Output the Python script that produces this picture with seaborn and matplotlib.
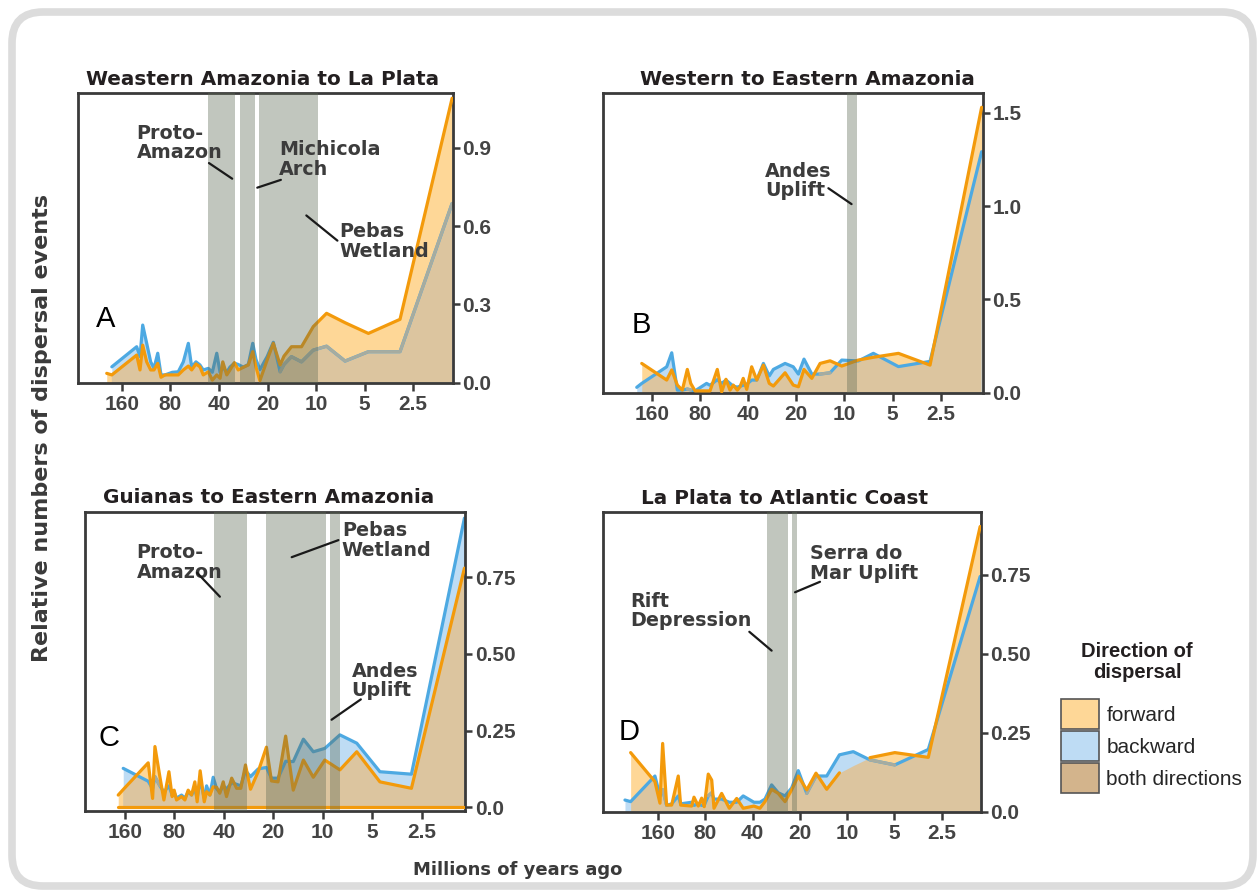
import numpy as np
import matplotlib
matplotlib.use('Agg')
import matplotlib.pyplot as plt
import seaborn as sns
from matplotlib.patches import Patch, FancyBboxPatch
from matplotlib.path import Path
from matplotlib.transforms import IdentityTransform
from matplotlib.ticker import NullLocator

nan = np.nan

#----------------data (age in Ma, relative number of events)-------------------------------------
# A: Weastern Amazonia to La Plata
a_age = [199, 185, 129.7, 123.7, 119, 112.4, 106.2, 101.3, 96, 91.6,
         86.5, 78, 71.6, 66.6, 62, 59.1, 55.6, 52.5, 50.1, 46.6,
         44, 41.3, 39.4, 37.9, 35.8, 34.2, 32.1, 30.4, 28.3, 26.3,
         24.7, 23.6, 22.3, 20.1, 18.4, 16.7, 15.8, 14.2, 12.3, 10.4,
         8.6, 6.6, 4.73, 3.01, 1.43]
a_fwd = [0.036, 0.030, 0.106, 0.049, 0.144, 0.080, 0.049, 0.049, 0.074, 0.021,
         0.030, 0.030, 0.030, 0.049, 0.064, 0.049, 0.072, 0.061, 0.030, 0.042,
         0.010, 0.030, 0.017, 0.080, 0.030, 0.049, 0.077, 0.049, 0.059, 0.068,
         0.119, 0.061, 0.008, 0.087, 0.151, 0.068, 0.102, 0.138, 0.138, 0.215,
         0.266, 0.230, 0.189, 0.243, 1.090]
a_bwd = [nan, 0.061, 0.138, 0.100, 0.221, 0.151, 0.080, 0.055, 0.113, 0.030,
         0.030, 0.040, 0.042, 0.080, 0.151, 0.060, 0.080, 0.068, 0.049, 0.055,
         0.040, 0.113, 0.040, 0.060, 0.040, 0.060, 0.075, 0.070, 0.060, 0.070,
         0.151, 0.090, 0.050, 0.100, 0.155, 0.042, 0.070, 0.100, 0.080, 0.125,
         0.140, 0.083, 0.119, 0.119, 0.687]
a_bands = [(47, 32), (29.6, 23.9), (22.5, 9.7)]

# B: Western to Eastern Amazonia
b_age = [198.5, 184.7, 129, 120, 110.7, 103, 95.9, 91.3, 85.8, 72.7,
         69.2, 62.3, 58.5, 55, 51.9, 49.5, 46.7, 44.9, 42.9, 40.8,
         38, 35.3, 32.1, 29.5, 27.8, 23.5, 20.9, 19.4, 17.9, 16,
         14.2, 12.3, 10.4, 8.2, 6.6, 4.6, 2.92, 1.39]
b_fwd = [nan, 0.157, 0.068, 0.122, 0.041, 0.014, 0.125, 0.050, 0.010, 0.010,
         0.010, 0.125, 0.005, 0.072, 0.014, 0.041, 0.014, 0.032, 0.077, 0.018,
         0.139, 0.068, 0.148, 0.050, 0.036, 0.107, 0.041, 0.032, 0.125, 0.077,
         0.157, 0.171, 0.143, 0.175, 0.190, 0.211, 0.148, 1.529]
b_bwd = [0.029, 0.050, 0.139, 0.214, 0.014, 0.014, 0.020, 0.015, 0.010, 0.050,
         0.040, 0.070, 0.050, 0.068, 0.050, 0.035, 0.030, 0.035, 0.040, 0.045,
         0.068, 0.068, 0.157, 0.090, 0.125, 0.157, 0.139, 0.100, 0.180, 0.100,
         0.100, 0.107, 0.175, 0.170, 0.211, 0.140, 0.168, 1.291]
b_bands = [(9.7, 8.3)]

# C: Guianas to Eastern Amazonia
c_age = [175.7, 163.8, 115.4, 108.5, 105, 98, 92.6, 86.3, 82.5, 80.2,
         77.6, 72.3, 69, 65.9, 62.8, 60, 58.1, 55.7, 52.6, 50.9,
         48.6, 46.4, 44.2, 42.3, 40.3, 38.5, 35.8, 33.4, 31.5, 29.5,
         27.5, 24.7, 22, 20.5, 18.7, 16.8, 15.1, 13.1, 11.4, 9.7,
         7.85, 6.2, 4.48, 2.88, 1.37]
c_fwd = [0.040, 0.058, 0.145, 0.029, 0.198, 0.100, 0.024, 0.116, 0.035, 0.056,
         0.024, 0.035, 0.024, 0.056, 0.040, 0.083, 0.018, 0.119, 0.018, 0.051,
         0.040, 0.067, 0.065, 0.046, 0.083, 0.035, 0.095, 0.062, 0.062, 0.138,
         0.059, 0.116, 0.196, 0.086, 0.083, 0.232, 0.056, 0.154, 0.098, 0.154,
         0.122, 0.181, 0.083, 0.062, 0.779]
c_bwd = [nan, 0.127, 0.085, 0.060, 0.100, 0.070, 0.050, 0.070, 0.040, 0.050,
         0.030, 0.040, 0.030, 0.050, 0.040, 0.060, 0.030, 0.090, 0.030, 0.070,
         0.040, 0.098, 0.060, 0.050, 0.070, 0.060, 0.080, 0.075, 0.070, 0.120,
         0.100, 0.125, 0.130, 0.095, 0.095, 0.150, 0.149, 0.222, 0.181, 0.192,
         0.236, 0.209, 0.116, 0.108, 0.942]
c_bands = [(46, 29), (22.2, 9.6), (9.0, 7.8)]

# D: La Plata to Atlantic Coast
d_age = [260.8, 240, 168, 156, 150, 141.5, 131.4, 119.3, 115.2, 98,
         94.7, 88.9, 84.6, 81.5, 76.8, 73, 70.6, 63.1, 56.4, 50.6,
         46, 39.3, 36, 33.4, 30.3, 27.5, 24.9, 22.6, 20.5, 18.1,
         15.8, 13.5, 11.2, 9.14, 7.16, 4.97, 3.04, 1.42]
d_fwd = [nan, 0.187, 0.095, 0.027, 0.216, 0.021, 0.021, 0.113, 0.021, 0.018,
         0.046, 0.018, 0.043, 0.016, 0.119, 0.100, 0.011, 0.058, 0.011, 0.042,
         0.011, 0.018, 0.011, 0.032, 0.071, 0.058, 0.032, 0.069, 0.113, 0.069,
         0.122, 0.071, 0.123, 0.146, 0.171, 0.187, 0.172, 0.902]
d_bwd = [0.037, 0.032, 0.113, 0.050, 0.070, 0.020, 0.025, 0.050, 0.025, 0.030,
         0.020, 0.025, 0.020, 0.020, 0.050, 0.060, 0.040, 0.040, 0.030, 0.030,
         0.050, 0.030, 0.030, 0.040, 0.085, 0.060, 0.050, 0.075, 0.130, 0.058,
         0.113, 0.113, 0.180, 0.190, 0.164, 0.148, 0.197, 0.744]
d_line_gap = [9.14]   # forward line not drawn through this point
d_bands = [(32.6, 23.7), (22.5, 20.8)]

x_ticks = [160, 80, 40, 20, 10, 5, 2.5]
x_ticklabels = ['160', '80', '40', '20', '10', '5', '2.5']

legend_labels = ['forward', 'backward', 'both directions']

#----------------styles-----------------
ORANGE = '#f39a0b'
BLUE = '#4da9e2'
GREY = '#a6aca0'
ORANGE_FILL = '#fed797'
BLUE_FILL = '#bedcf4'
TAN_FILL = '#dcc59f'
BAND = '#5e6b55'
DARK = '#3a3a3a'

panels = [
    dict(letter='A', title='Weastern Amazonia to La Plata', tx=0.493,
         pos=[0.0622, 0.5714, 0.2974, 0.3241], xlim=(298.7, 1.417), ylim=(0, 1.109),
         yt=[0, 0.3, 0.6, 0.9], ytl=['0.0', '0.3', '0.6', '0.9'],
         age=a_age, fwd=a_fwd, bwd=a_bwd, bands=a_bands, gap=[], floor=False,
         lpos=(0.048, 0.221),
         notes=[('Proto-\nAmazon', (0.156, 0.895), (0.349, 0.759), (0.411, 0.705)),
                ('Michicola\nArch', (0.536, 0.838), (0.478, 0.674), (0.541, 0.701)),
                ('Pebas\nWetland', (0.697, 0.555), (0.609, 0.578), (0.692, 0.491))]),
    dict(letter='B', title='Western to Eastern Amazonia', tx=0.54,
         pos=[0.4787, 0.5602, 0.3018, 0.3353], xlim=(324, 1.37), ylim=(0, 1.604),
         yt=[0, 0.5, 1.0, 1.5], ytl=['0.0', '0.5', '1.0', '1.5'],
         age=b_age, fwd=b_fwd, bwd=b_bwd, bands=b_bands, gap=[], floor=False,
         lpos=(0.076, 0.226),
         notes=[('Andes\nUplift', (0.427, 0.772), (0.594, 0.683), (0.655, 0.630))]),
    dict(letter='C', title='Guianas to Eastern Amazonia', tx=0.482,
         pos=[0.0675, 0.0918, 0.3018, 0.3352], xlim=(280, 1.36), ylim=(-0.012, 0.963),
         yt=[0, 0.25, 0.5, 0.75], ytl=['0.0', '0.25', '0.50', '0.75'],
         age=c_age, fwd=c_fwd, bwd=c_bwd, bands=c_bands, gap=[], floor=True,
         lpos=(0.035, 0.244),
         notes=[('Proto-\nAmazon', (0.136, 0.895), (0.295, 0.796), (0.355, 0.716)),
                ('Pebas\nWetland', (0.676, 0.969), (0.544, 0.848), (0.667, 0.905)),
                ('Andes\nUplift', (0.702, 0.499), (0.649, 0.305), (0.726, 0.373))]),
    dict(letter='D', title='La Plata to Atlantic Coast', tx=0.48,
         pos=[0.4787, 0.0910, 0.3002, 0.3353], xlim=(361.7, 1.41), ylim=(0, 0.947),
         yt=[0, 0.25, 0.5, 0.75], ytl=['0.0', '0.25', '0.50', '0.75'],
         age=d_age, fwd=d_fwd, bwd=d_bwd, bands=d_bands, gap=d_line_gap, floor=False,
         lpos=(0.041, 0.265),
         notes=[('Rift\nDepression', (0.074, 0.735), (0.388, 0.601), (0.447, 0.538)),
                ('Serra do\nMar Uplift', (0.548, 0.893), (0.509, 0.733), (0.575, 0.768))]),
]

sns.set_theme(style='ticks')
plt.rcParams['font.family'] = ['DejaVu Sans']


def draw_line(ax, x, y, color, z):
    # seaborn joins over NaN, so draw each unbroken run on its own
    idx = np.flatnonzero(~np.isnan(y))
    runs = np.split(idx, np.flatnonzero(np.diff(idx) > 1) + 1)
    for r in runs:
        if len(r) > 1:
            sns.lineplot(x=x[r], y=y[r], color=color, lw=2.3, ax=ax, zorder=z,
                         sort=False, estimator=None)


fig = plt.figure(figsize=(12.59, 8.93), dpi=100)

for p in panels:
    ax = fig.add_axes(p['pos'])
    ax.set_xscale('log', base=2)
    age = np.array(p['age'])
    fwd = np.array(p['fwd'])
    bwd = np.array(p['bwd'])

    # fills: forward, backward and their overlap
    ax.fill_between(age, 0, fwd, color=ORANGE_FILL, lw=0, zorder=1)
    pb = ax.fill_between(age, 0, bwd, color=BLUE_FILL, lw=0, zorder=1.1)
    pt = ax.fill_between(age, 0, fwd, color=TAN_FILL, lw=0, zorder=1.2)
    pt.set_clip_path(Path.make_compound_path(*pb.get_paths()), pb.get_transform())

    # lines
    draw_line(ax, age, bwd, BLUE, 2)
    hidden = np.where(bwd < fwd, bwd, np.nan)
    draw_line(ax, age, hidden, GREY, 2.1)
    fwd_line = np.where(np.isin(age, p['gap']), np.nan, fwd)
    draw_line(ax, age, fwd_line, ORANGE, 3)
    if p['floor']:
        sns.lineplot(x=[age[0], age[-1]], y=[0, 0], color=ORANGE, lw=2.3, ax=ax, zorder=3)

    for a0, a1 in p['bands']:
        ax.axvspan(a0, a1, color=BAND, alpha=0.38, lw=0, zorder=4)

    for txt, (tx, ty), (x0, y0), (x1, y1) in p['notes']:
        ax.text(tx, ty, txt, transform=ax.transAxes, ha='left', va='top', fontsize=13.8,
                fontweight='bold', color='#3c3c3c', linespacing=1.05, zorder=6)
        ax.plot([x0, x1], [y0, y1], transform=ax.transAxes, color='#1a1a1a', lw=1.6, zorder=6)

    ax.text(p['lpos'][0], p['lpos'][1], p['letter'], transform=ax.transAxes, ha='left',
            va='center', fontsize=21, family='Liberation Sans', color='black', zorder=6)

    ax.set_xlim(*p['xlim'])
    ax.set_ylim(*p['ylim'])
    ax.xaxis.set_minor_locator(NullLocator())
    ax.set_xticks(x_ticks, labels=x_ticklabels, fontfamily='Liberation Sans',
                  fontweight='bold', fontsize=15, color='#444444')
    ax.yaxis.tick_right()
    ax.set_yticks(p['yt'], labels=p['ytl'], fontfamily='Liberation Sans',
                  fontweight='bold', fontsize=15, color='#444444')
    ax.tick_params(axis='x', bottom=True, length=5.5, width=1.8, color=DARK, pad=3)
    ax.tick_params(axis='y', right=True, left=False, labelright=True, labelleft=False,
                   length=5, width=1.8, color=DARK, pad=2)
    for s in ax.spines.values():
        s.set_visible(True)
        s.set_color(DARK)
        s.set_linewidth(2)
    ax.set_xlabel('')
    ax.set_ylabel('')
    ax.set_title(p['title'], x=p['tx'], fontsize=14.4, fontweight='bold',
                 color='#231f20', pad=6)

fig.text(42 / 1259, 1 - 428 / 893, 'Relative numbers of dispersal events', rotation=90,
         ha='center', va='center', fontsize=16, fontweight='bold', color=DARK)
fig.text(518 / 1259, 1 - 870 / 893, 'Millions of years ago', ha='center', va='center',
         fontsize=13, fontweight='bold', color=DARK)

fig.text(1137 / 1259, 1 - 642 / 893, 'Direction of\ndispersal', ha='center', va='top',
         fontsize=14.5, fontweight='bold', family='Liberation Sans', color='#231f20',
         linespacing=1.1)
handles = [Patch(facecolor=c, edgecolor='#555555', lw=1.2, label=l)
           for c, l in zip([ORANGE_FILL, BLUE_FILL, '#d3b48c'], legend_labels)]
fig.legend(handles=handles, loc='upper left', bbox_to_anchor=(1061 / 1259, 1 - 699 / 893),
           frameon=False, prop={'family': 'Liberation Sans', 'size': 15},
           handlelength=1.83, handleheight=1.83, handletextpad=0.35, labelspacing=0.1,
           borderpad=0, borderaxespad=0)

frame = FancyBboxPatch((12, 7), 1241, 874, boxstyle='round,pad=0,rounding_size=31',
                       transform=IdentityTransform(), fill=False, ec='#dcdcdc', lw=5.5,
                       zorder=0)
fig.add_artist(frame)

fig.savefig('out.png', dpi=100)
